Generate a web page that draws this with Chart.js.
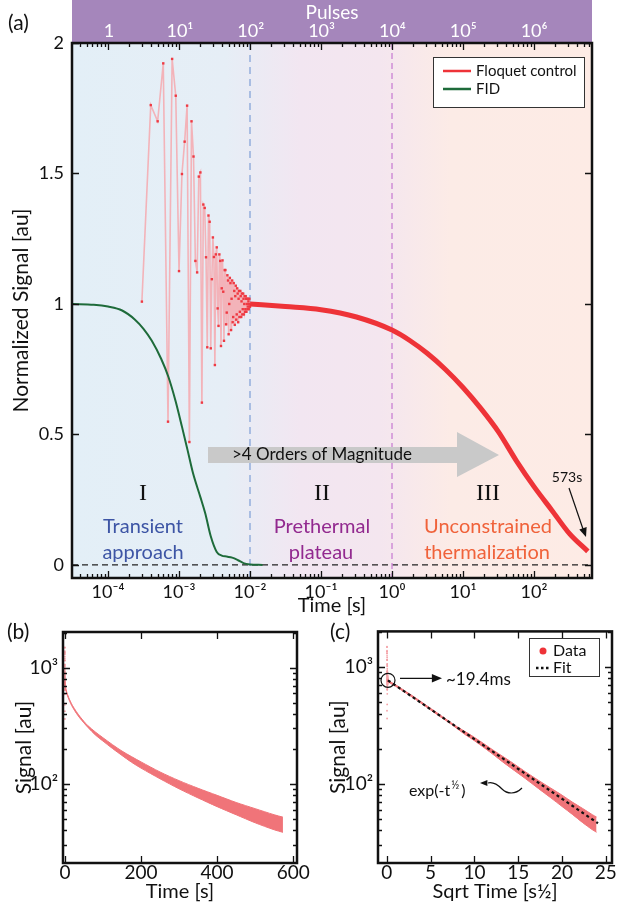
<!DOCTYPE html>
<html>
<head>
<meta charset="utf-8">
<script src="https://cdn.jsdelivr.net/npm/chart.js@4.4.0/dist/chart.umd.min.js"></script>
<style>
html,body{margin:0;padding:0;background:#fff;}
#wrap{position:relative;width:620px;height:905px;overflow:hidden;}
canvas{position:absolute;}
#ca{left:0;top:0;}
#cb{left:0;top:615px;}
#cc{left:310px;top:615px;}
</style>
</head>
<body>
<div id="wrap">
  <canvas id="ca" width="620" height="620"></canvas>
  <canvas id="cb" width="310" height="290"></canvas>
  <canvas id="cc" width="310" height="290"></canvas>
</div>
<script>
/* ===== data ===== */
const FONT='Lato, "Open Sans", sans-serif';
const PULSE_PERIOD=1e-4;   // s per pulse (pulse axis = time / period)
const NORM=770;            // raw signal that equals 1 on the normalised axis

// (a) FID
const fidTime=[3.16e-5,6.3e-5,1e-4,1.58e-4,2.4e-4,3.16e-4,4.12e-4,5.6e-4,7.1e-4,8.9e-4,1.1e-3,1.32e-3,1.58e-3,2.0e-3,2.34e-3,2.8e-3,3.4e-3,4.0e-3,4.7e-3,5.6e-3,6.8e-3,8.1e-3,1e-2,1.5e-2];
const fidSignal=[1.0,0.997,0.99,0.975,0.94,0.905,0.86,0.79,0.72,0.63,0.53,0.44,0.35,0.26,0.198,0.11,0.05,0.036,0.032,0.028,0.018,0.007,0.002,0.0];

// (a) Floquet control, one value per pulse starting at pulse 3
const oscFirstPulse=3;
const oscSignal=[
  1.009,1.762,1.70,1.922,0.549,1.939,1.798,1.126,1.498,1.622,
  1.76,0.471,1.70,1.565,1.165,1.121,1.488,1.504,0.622,1.381,
  1.368,1.179,0.834,1.339,1.315,0.83,1.095,1.255,1.18,0.766,
  1.19,1.217,0.983,0.916,1.19,1.165,0.839,1.06,1.167,1.047,
  0.859,1.13,1.13,0.922,0.967,1.11,1.09,0.884,1.0,1.10,
  1.08,0.90,1.02,1.09,0.93,0.95,1.08,1.05,0.92,1.03,
  1.07,0.94,0.96,1.06,1.04,0.93,1.02,1.05,0.95,0.97,
  1.05,1.03,0.95,1.01,1.04,0.96,0.98,1.04,1.02,0.96,
  1.0,1.03,0.97,0.98,1.03,1.02,0.97,1.0,1.02,0.98,
  0.99,1.02,1.01,0.98,1.0,1.02,0.99,0.99
];
// (a) Floquet control after the transient
const floqTime=[0.01,0.0316,0.1,0.316,1,1.78,3.16,5.62,10,17.8,31.6,56.2,100,178,316,573];
const floqSignal=[1.0,0.99,0.978,0.95,0.9,0.86,0.81,0.75,0.68,0.6,0.51,0.4,0.3,0.21,0.12,0.052];

const timeTicks=[1e-4,1e-3,1e-2,1e-1,1,10,100];
const pulseTicks=[1,10,100,1e3,1e4,1e5,1e6];
const normTicks=[0,0.5,1,1.5,2];

// (b)/(c) raw decay, band edges
const decayTime=[0,0.5,1,2,3,5,7,10,15,20,30,40,50,60,80,100,125,150,175,200,250,300,350,400,450,500,550,573];
const decayHigh=[782,726,706,675,650,614,587,553,508,472,419,378,345,318,280,250,218,192,172,155,127,107,92,80,69.5,61.5,54.5,52];
const decayLow=[758,704,684,655,630,596,569,537,492,458,405,366,335,308,264,234,202,176,154,137,111,91,76,64,54.5,46.5,40.5,38.5];
const fitSqrtTime=[0.14,24.1];
const fitSignal=[770,46];

const bTimeTicks=[0,200,400,600];
const cSqrtTicks=[0,5,10,15,20,25];
const signalTicks=[100,1000];

/* ===== helpers ===== */
const SUP={'-':'⁻','0':'⁰','1':'¹','2':'²','3':'³','4':'⁴','5':'⁵','6':'⁶','7':'⁷','8':'⁸','9':'⁹'};
const pow10=v=>'10'+String(Math.round(Math.log10(v))).split('').map(c=>SUP[c]).join('');
const fixTicks=vals=>s=>{ s.ticks=vals.map(v=>({value:v})); };
const pts=(xs,ys)=>xs.map((x,i)=>({x,y:ys[i]}));
function logMinor(lo,hi){
  const out=[];
  for(let e=Math.floor(Math.log10(lo));e<=Math.ceil(Math.log10(hi));e++)
    for(let k=2;k<=9;k++){ const v=k*Math.pow(10,e); if(v>lo&&v<hi) out.push(v); }
  return out;
}
function baseAxis(extra){
  return Object.assign({grid:{display:false,drawTicks:false},border:{display:false}},extra);
}
function font(size){ return {family:FONT,size}; }

// inward tick marks + frame, matlab style
function drawFrame(c,spec){
  const ctx=c.ctx,a=c.chartArea;
  ctx.save();
  ctx.strokeStyle='#111'; ctx.lineWidth=1.3;
  const mark=(axis,vals,len)=>{
    const s=c.scales[axis];
    vals.forEach(v=>{
      const p=Math.round(s.getPixelForValue(v))+0.5;
      ctx.beginPath();
      if(s.isHorizontal()){
        ctx.moveTo(p,a.bottom); ctx.lineTo(p,a.bottom-len);
        ctx.moveTo(p,a.top); ctx.lineTo(p,a.top+len);
      }else{
        ctx.moveTo(a.left,p); ctx.lineTo(a.left+len,p);
        ctx.moveTo(a.right,p); ctx.lineTo(a.right-len,p);
      }
      ctx.stroke();
    });
  };
  mark('x',spec.xMajor,7); mark('x',spec.xMinor||[],4);
  mark('y',spec.yMajor,7); mark('y',spec.yMinor||[],4);
  ctx.lineWidth=2.5;
  ctx.strokeRect(a.left,a.top,a.right-a.left,a.bottom-a.top);
  ctx.restore();
}
function arrowHead(ctx,x0,y0,x1,y1,size){
  const ang=Math.atan2(y1-y0,x1-x0);
  ctx.beginPath();
  ctx.moveTo(x1,y1);
  ctx.lineTo(x1-size*Math.cos(ang-0.4),y1-size*Math.sin(ang-0.4));
  ctx.lineTo(x1-size*Math.cos(ang+0.4),y1-size*Math.sin(ang+0.4));
  ctx.closePath(); ctx.fill();
}
function panelLabel(ctx,t,x,y){
  ctx.save(); ctx.fillStyle='#111'; ctx.font='21px '+FONT;
  ctx.textAlign='left'; ctx.textBaseline='middle'; ctx.fillText(t,x,y); ctx.restore();
}

/* ===== panel (a) ===== */
const T_MIN=3.11e-5, T_MAX=656;
const plotA={
  id:'plotA',
  beforeDraw(c){
    const ctx=c.ctx,a=c.chartArea,w=a.right-a.left;
    ctx.save();
    const g=ctx.createLinearGradient(a.left,0,a.right,0);
    g.addColorStop(0,'#e3eff7');
    g.addColorStop(153/w,'#e6eef6');
    g.addColorStop(228/w,'#f2e6f1');
    g.addColorStop(308/w,'#f4e6ef');
    g.addColorStop(378/w,'#fcebe6');
    g.addColorStop(1,'#fdebe5');
    ctx.fillStyle=g; ctx.fillRect(a.left,a.top,w,a.bottom-a.top);
    ctx.fillStyle='#a586bb'; ctx.fillRect(a.left,0,w,a.top);
    ctx.restore();
  },
  beforeDatasetsDraw(c){
    const ctx=c.ctx,a=c.chartArea,x=c.scales.x,y=c.scales.y;
    ctx.save();
    // zero line
    ctx.strokeStyle='#222'; ctx.lineWidth=1.2; ctx.setLineDash([6,4]);
    const y0=y.getPixelForValue(0);
    ctx.beginPath(); ctx.moveTo(a.left,y0); ctx.lineTo(a.right,y0); ctx.stroke();
    // region borders
    ctx.strokeStyle='#a9bde2'; ctx.lineWidth=2; ctx.setLineDash([7,5]);
    let p=x.getPixelForValue(1e-2);
    ctx.beginPath(); ctx.moveTo(p,a.top); ctx.lineTo(p,a.bottom); ctx.stroke();
    ctx.strokeStyle='#cf8ed6'; ctx.lineWidth=1.5; ctx.setLineDash([6,4]);
    p=x.getPixelForValue(1);
    ctx.beginPath(); ctx.moveTo(p,a.top); ctx.lineTo(p,a.bottom); ctx.stroke();
    ctx.setLineDash([]);
    // grey arrow
    ctx.fillStyle='#c9c9c9';
    ctx.beginPath();
    ctx.moveTo(208,447); ctx.lineTo(457,447); ctx.lineTo(457,432); ctx.lineTo(499,455);
    ctx.lineTo(457,477); ctx.lineTo(457,463); ctx.lineTo(208,463); ctx.closePath(); ctx.fill();
    ctx.fillStyle='#111'; ctx.font='17px '+FONT; ctx.textBaseline='middle'; ctx.textAlign='left';
    ctx.fillText('>4 Orders of Magnitude',232,455);
    ctx.restore();
  },
  afterDraw(c){
    const ctx=c.ctx;
    drawFrame(c,{xMajor:timeTicks,xMinor:logMinor(T_MIN,T_MAX),yMajor:normTicks});
    ctx.save();
    ctx.textAlign='center'; ctx.textBaseline='middle';
    ctx.fillStyle='#111'; ctx.font='24px "Liberation Serif", serif';
    ctx.fillText('I',143,494); ctx.fillText('II',322,494); ctx.fillText('III',488,494);
    ctx.font='20px '+FONT;
    ctx.fillStyle='#3d55a5'; ctx.fillText('Transient',143,527); ctx.fillText('approach',143,553);
    ctx.fillStyle='#92298f'; ctx.fillText('Prethermal',322,527); ctx.fillText('plateau',321,553);
    ctx.fillStyle='#f0623a'; ctx.fillText('Unconstrained',488,527); ctx.fillText('thermalization',487,553);
    // 573 s pointer
    ctx.fillStyle='#111'; ctx.font='14px '+FONT;
    ctx.fillText('573s',567,477);
    ctx.strokeStyle='#111'; ctx.lineWidth=1.2;
    ctx.beginPath(); ctx.moveTo(569,488); ctx.lineTo(584,532); ctx.stroke();
    arrowHead(ctx,569,488,586,537,10);
    // legend
    ctx.fillStyle='#fff'; ctx.fillRect(433,57,151,50);
    ctx.strokeStyle='#333'; ctx.lineWidth=1; ctx.strokeRect(433.5,57.5,151,50);
    ctx.lineWidth=2.5;
    ctx.strokeStyle='#ee3338'; ctx.beginPath(); ctx.moveTo(443,71); ctx.lineTo(471,71); ctx.stroke();
    ctx.strokeStyle='#1e6b3a'; ctx.beginPath(); ctx.moveTo(443,89); ctx.lineTo(471,89); ctx.stroke();
    ctx.fillStyle='#111'; ctx.font='15px '+FONT; ctx.textAlign='left';
    ctx.fillText('Floquet control',476,71); ctx.fillText('FID',476,89);
    ctx.restore();
    panelLabel(ctx,'(a)',8,23);
  }
};

new Chart(document.getElementById('ca'),{
  type:'line',
  data:{datasets:[
    {label:'FID',data:pts(fidTime,fidSignal),borderColor:'#1e6b3a',borderWidth:2,pointRadius:0,cubicInterpolationMode:'monotone'},
    {label:'Floquet control',data:pts(floqTime,floqSignal),borderColor:'#ee3338',borderWidth:5,pointRadius:0,cubicInterpolationMode:'monotone'},
    {label:'Floquet pulses',data:oscSignal.map((v,i)=>({x:(oscFirstPulse+i)*PULSE_PERIOD,y:v})),
     borderColor:'#f3b3b9',borderWidth:1.6,pointRadius:1.7,pointStyle:'rect',
     pointBackgroundColor:'#ee3a43',pointBorderColor:'#ee3a43',pointBorderWidth:0}
  ]},
  options:{
    responsive:false,animation:false,devicePixelRatio:1,
    layout:{padding:{left:0,right:28,top:0,bottom:0}},
    plugins:{legend:{display:false},tooltip:{enabled:false}},
    scales:{
      x:baseAxis({type:'logarithmic',position:'bottom',min:T_MIN,max:T_MAX,
        afterBuildTicks:fixTicks(timeTicks),afterFit:s=>{s.height=42;},
        ticks:{callback:v=>pow10(v),font:font(18),color:'#111',padding:3,autoSkip:false,maxRotation:0},
        title:{display:true,text:'Time [s]',font:font(20),color:'#111',padding:{top:0,bottom:2}}}),
      x2:baseAxis({type:'logarithmic',position:'top',min:T_MIN/PULSE_PERIOD,max:T_MAX/PULSE_PERIOD,
        afterBuildTicks:fixTicks(pulseTicks),afterFit:s=>{s.height=43;},
        ticks:{callback:v=>v===1?'1':pow10(v),font:font(18),color:'#fff',padding:1,autoSkip:false,maxRotation:0},
        title:{display:true,text:'Pulses',font:font(19),color:'#fff',padding:{top:1,bottom:0}}}),
      y:baseAxis({type:'linear',min:-0.05,max:2,
        afterBuildTicks:fixTicks(normTicks),afterFit:s=>{s.width=72;},
        ticks:{callback:v=>String(v),font:font(18),color:'#111',padding:8},
        title:{display:true,text:'Normalized Signal [au]',font:font(21),color:'#111',padding:{top:9,bottom:0}}})
    }
  },
  plugins:[plotA]
});

/* ===== panels (b) and (c) ===== */
const S_MIN=21, S_MAX=2020;
function decayOptions(xCfg,padRight,padTop,yWidth,yTitlePad){
  return {
    responsive:false,animation:false,devicePixelRatio:1,
    layout:{padding:{left:0,right:padRight,top:padTop,bottom:0}},
    plugins:{legend:{display:false},tooltip:{enabled:false}},
    scales:{
      x:baseAxis(Object.assign({type:'linear',position:'bottom',afterFit:s=>{s.height=42;}},xCfg)),
      y:baseAxis({type:'logarithmic',min:S_MIN,max:S_MAX,
        afterBuildTicks:fixTicks(signalTicks),afterFit:s=>{s.width=yWidth;},
        ticks:{callback:v=>pow10(v),font:font(19),color:'#111',padding:5},
        title:{display:true,text:'Signal [au]',font:font(21),color:'#111',padding:{top:yTitlePad,bottom:0}}})
    }
  };
}
function decaySets(xOf){
  return [
    {data:decayTime.map((t,i)=>({x:xOf(t),y:decayHigh[i]})),borderColor:'#f07479',borderWidth:1,pointRadius:0,tension:0.3,fill:false},
    {data:decayTime.map((t,i)=>({x:xOf(t),y:decayLow[i]})),borderColor:'#f07479',borderWidth:1,pointRadius:0,tension:0.3,fill:'-1',backgroundColor:'#f07479'},
    {data:oscSignal.map((v,i)=>({x:xOf((oscFirstPulse+i)*PULSE_PERIOD),y:v*NORM})),showLine:false,
     pointRadius:0.9,pointBackgroundColor:'#f4a3a8',pointBorderWidth:0}
  ];
}
const xTickCfg={font:font(19),color:'#111',padding:-2,autoSkip:false,maxRotation:0};

new Chart(document.getElementById('cb'),{
  type:'line',
  data:{datasets:decaySets(t=>t)},
  options:decayOptions({min:-5,max:610,afterBuildTicks:fixTicks(bTimeTicks),ticks:xTickCfg,
    title:{display:true,text:'Time [s]',font:font(20),color:'#111',padding:{top:0,bottom:1}}},13,17,63,12),
  plugins:[{id:'frameB',afterDraw(c){
    drawFrame(c,{xMajor:bTimeTicks,yMajor:signalTicks,yMinor:logMinor(S_MIN,S_MAX)});
    panelLabel(c.ctx,'(b)',7,17);
  }}]
});

new Chart(document.getElementById('cc'),{
  type:'line',
  data:{datasets:[
    {data:pts(fitSqrtTime,fitSignal),borderColor:'#111',borderWidth:2.2,borderDash:[3,3],pointRadius:0},
    ...decaySets(t=>Math.sqrt(t))
  ]},
  options:decayOptions({min:-1,max:25.7,afterBuildTicks:fixTicks(cSqrtTicks),ticks:xTickCfg,
    title:{display:true,text:'Sqrt Time [s½]',font:font(20),color:'#111',padding:{top:0,bottom:1}}},8,15,68,16),
  plugins:[{id:'frameC',afterDraw(c){
    const ctx=c.ctx,x=c.scales.x,y=c.scales.y;
    drawFrame(c,{xMajor:cSqrtTicks,yMajor:signalTicks,yMinor:logMinor(S_MIN,S_MAX)});
    ctx.save();
    // 19.4 ms marker
    const cx=x.getPixelForValue(fitSqrtTime[0]),cy=y.getPixelForValue(fitSignal[0]);
    ctx.strokeStyle='#111'; ctx.lineWidth=1.2;
    ctx.beginPath(); ctx.arc(cx,cy,7,0,2*Math.PI); ctx.stroke();
    ctx.beginPath(); ctx.moveTo(cx+12,cy-2); ctx.lineTo(cx+48,cy-2); ctx.stroke();
    ctx.fillStyle='#111'; arrowHead(ctx,cx+12,cy-2,cx+54,cy-2,11);
    ctx.font='17px '+FONT; ctx.textAlign='left'; ctx.textBaseline='middle';
    ctx.fillText('~19.4ms',cx+58,cy-1);
    // exp label
    ctx.font='16px '+FONT;
    ctx.fillText('exp(-t',99,176);
    let w=ctx.measureText('exp(-t').width;
    ctx.font='11px '+FONT; ctx.fillText('½',99+w+1,170);
    const w2=ctx.measureText('½').width;
    ctx.font='16px '+FONT; ctx.fillText(')',99+w+w2+3,176);
    // wavy pointer
    ctx.beginPath(); ctx.moveTo(212,173);
    ctx.bezierCurveTo(205,180,197,179,192,174);
    ctx.bezierCurveTo(187,169,182,167,178,168);
    ctx.stroke();
    arrowHead(ctx,180,168,170,168,8);
    // legend
    ctx.fillStyle='#fff'; ctx.fillRect(219,23,70,38);
    ctx.strokeStyle='#333'; ctx.lineWidth=1; ctx.strokeRect(219.5,23.5,70,38);
    ctx.fillStyle='#ee3338'; ctx.beginPath(); ctx.arc(233,36,3.5,0,2*Math.PI); ctx.fill();
    ctx.strokeStyle='#111'; ctx.lineWidth=2.5; ctx.setLineDash([2.5,2.5]);
    ctx.beginPath(); ctx.moveTo(226,53); ctx.lineTo(240,53); ctx.stroke(); ctx.setLineDash([]);
    ctx.fillStyle='#111'; ctx.font='16px '+FONT;
    ctx.fillText('Data',243,36); ctx.fillText('Fit',243,53);
    ctx.restore();
    panelLabel(ctx,'(c)',20,17);
  }}]
});
</script>
</body>
</html>
